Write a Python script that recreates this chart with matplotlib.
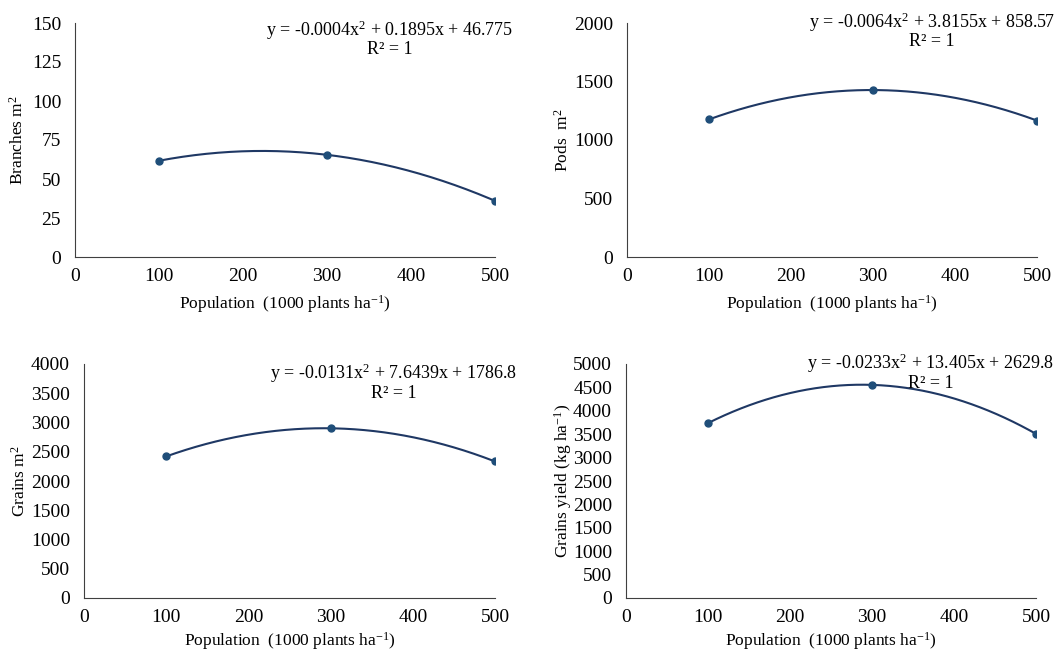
import numpy as np
import matplotlib
matplotlib.use('Agg')
import matplotlib.pyplot as plt

plt.rcParams['font.family'] = ['Liberation Serif', 'DejaVu Serif']
plt.rcParams['mathtext.fontset'] = 'custom'
plt.rcParams['mathtext.rm'] = 'Liberation Serif'
plt.rcParams['mathtext.it'] = 'Liberation Serif:italic'
plt.rcParams['font.size'] = 12

# population (1000 plants/ha)
population = [100, 300, 500]

branches = [61.7, 65.5, 36.0]
pods = [1176, 1427, 1166]
grains = [2420, 2901, 2334]
grainYield = [3737, 4554, 3507]

equations = [
    'y = -0.0004x$^{2}$ + 0.1895x + 46.775',
    'y = -0.0064x$^{2}$ + 3.8155x + 858.57',
    'y = -0.0131x$^{2}$ + 7.6439x + 1786.8',
    'y = -0.0233x$^{2}$ + 13.405x + 2629.8',
]
yLabels = ['Branches m$^{2}$', 'Pods  m$^{2}$', 'Grains m$^{2}$', 'Grains yield (kg ha$^{-1}$)']
yLimits = [(0, 150), (0, 2000), (0, 4000), (0, 5000)]
yStep = [25, 500, 500, 500]
xLabel = 'Population  (1000 plants ha$^{-1}$)'

# axes boxes in pixels (left, top, right, bottom)
W, H = 1061, 653
boxes = [
    (75, 23, 495, 257),
    (627, 23, 1037, 257),
    (84, 364, 495, 598),
    (626, 364, 1036, 598),
]
eqPos = [(390, 30), (932, 22), (394, 373), (931, 363)]
yLabelX = [18, 563, 20, 563]
xLabelY = [304, 304, 641, 641]

lineColor = '#1f3864'
markerColor = '#1f4e79'

fig = plt.figure(figsize=(W / 100, H / 100), dpi=100)

allSeries = [branches, pods, grains, grainYield]
for i, values in enumerate(allSeries):
    x0, y0, x1, y1 = boxes[i]
    ax = fig.add_axes([x0 / W, 1 - y1 / H, (x1 - x0) / W, (y1 - y0) / H])

    # quadratic trendline through the points
    coeffs = np.polyfit(population, values, 2)
    xs = np.linspace(min(population), max(population), 200)
    ax.plot(xs, np.polyval(coeffs, xs), color=lineColor, lw=1.5)
    ax.plot(population, values, 'o', color=markerColor, markersize=5)

    ax.set_xlim(0, 500)
    ax.set_ylim(*yLimits[i])
    ax.set_xticks(range(0, 501, 100))
    ax.set_yticks(np.arange(yLimits[i][0], yLimits[i][1] + 1, yStep[i]))
    ax.tick_params(axis='x', length=0, labelsize=14, pad=8)
    ax.tick_params(axis='y', length=0, labelsize=14, pad=10)
    for side in ['top', 'right']:
        ax.spines[side].set_visible(False)
    for side in ['left', 'bottom']:
        ax.spines[side].set_color('#404040')
        ax.spines[side].set_linewidth(0.8)

    fig.text((x0 + x1) / 2 / W, 1 - xLabelY[i] / H, xLabel, ha='center', va='center', fontsize=12.5)

    ex, ey = eqPos[i]
    fig.text(ex / W, 1 - ey / H, equations[i], ha='center', va='center', fontsize=13)
    fig.text(ex / W, 1 - (ey + 20) / H, 'R² = 1', ha='center', va='center', fontsize=13)

    fig.text(yLabelX[i] / W, 1 - ((y0 + y1) / 2) / H, yLabels[i], rotation=90,
             ha='center', va='center', fontsize=12.5)

fig.savefig('out.png', dpi=100)
